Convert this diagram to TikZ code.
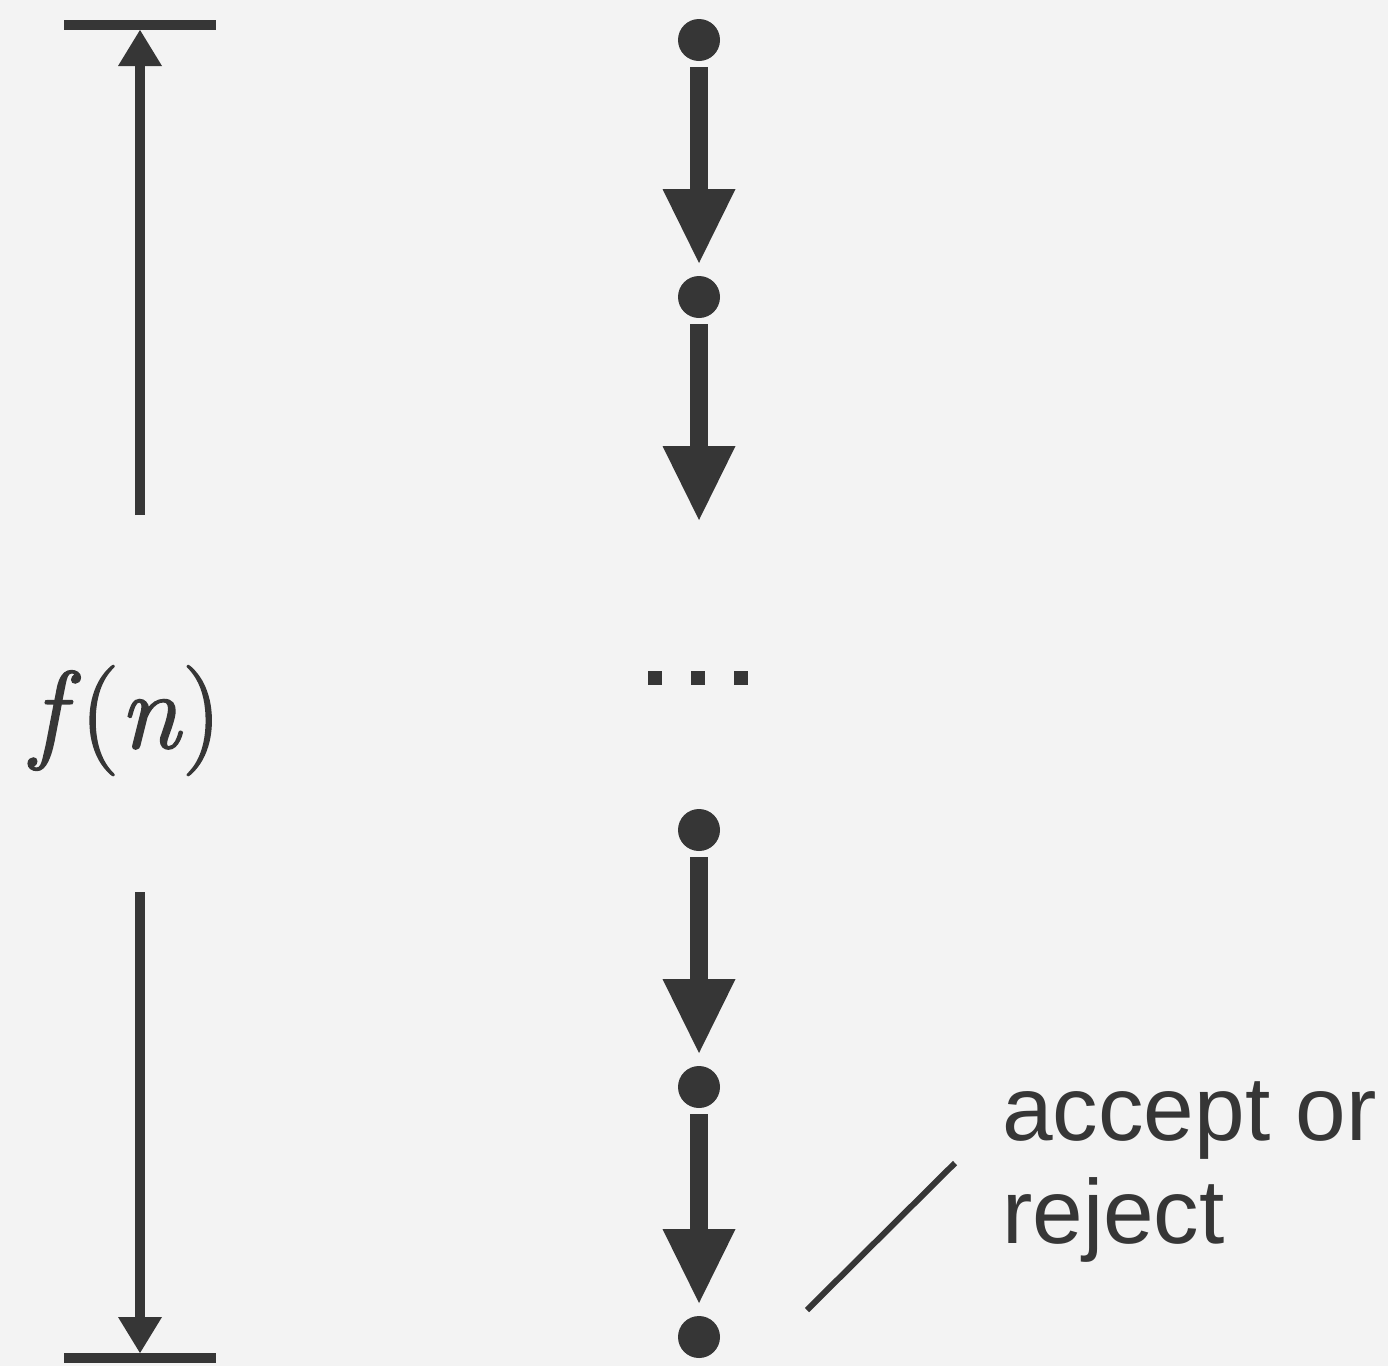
\documentclass[tikz,border=0pt]{standalone}
\usepackage{fontspec}
\newfontfamily\labelsans{Liberation Sans}
\newfontfamily\labelserif{Latin Modern Roman}[FakeBold=1.4,ItalicFeatures={FakeBold=1.4}]
\usetikzlibrary{arrows.meta}
\definecolor{ink}{HTML}{363636}
\definecolor{paper}{HTML}{F3F3F3}
\begin{document}
\begin{tikzpicture}[x=1pt,y=-1pt,
  state/.style={circle,fill=ink,minimum size=42pt,inner sep=0pt,outer sep=0pt},
  flow/.style={draw=ink,line width=18pt,
    -{Triangle[length=74pt,width=73pt,line width=0pt]},
    shorten <=6pt,shorten >=13pt},
  gapdot/.style={rectangle,fill=ink,minimum size=14pt,inner sep=0pt},
  limit/.style={draw=ink,line width=10pt},
  span/.style={draw=ink,line width=10pt,
    -{Triangle[length=36pt,width=44pt,line width=0pt]}},
  pointer/.style={draw=ink,line width=6pt},
]
\fill[paper] (0,0) rectangle (1388,1366);
\useasboundingbox (0,0) rectangle (1388,1366);

% chain of configurations
\node[state] (d1) at (699,40) {};
\node[state] (d2) at (699,297) {};
\node[state] (d3) at (699,830) {};
\node[state] (d4) at (699,1087) {};
\node[state] (d5) at (699,1337) {};
\coordinate (open) at (699,533);
\draw[flow] (d1.south) -- (d2.north);
\draw[flow] (d2.south) -- (open);
\draw[flow] (d3.south) -- (d4.north);
\draw[flow] (d4.south) -- (d5.north);

% omitted steps
\node[gapdot] (e1) at (655,678) {};
\node[gapdot] (e2) at (698,678) {};
\node[gapdot] (e3) at (741,678) {};

% running-time bracket
\coordinate (tl) at (64,25);
\coordinate (tr) at (216,25);
\coordinate (bl) at (64,1358);
\coordinate (br) at (216,1358);
\coordinate (tmid) at (140,25);
\coordinate (bmid) at (140,1358);
\coordinate (ua) at (140,515);
\coordinate (la) at (140,892);
\draw[limit] (tl) -- (tr);
\draw[limit] (bl) -- (br);
\draw[span,shorten >=5pt] (ua) -- (tmid);
\draw[span,shorten >=5pt] (la) -- (bmid);
\node[text=ink,inner sep=0pt,anchor=base west,
  font=\labelserif\fontsize{110}{114}\selectfont]
  (fn) at (31,748) {\textit{f\/}(\textit{n\/})};

% final answer
\coordinate (p1) at (807,1310);
\coordinate (p2) at (955,1163);
\draw[pointer] (p1) -- (p2);
\node[text=ink,inner sep=0pt,anchor=base west,align=left,
  font=\labelsans\fontsize{91}{103}\selectfont] (res) at (1002,1243)
  {accept or\\reject};
\end{tikzpicture}
\end{document}
